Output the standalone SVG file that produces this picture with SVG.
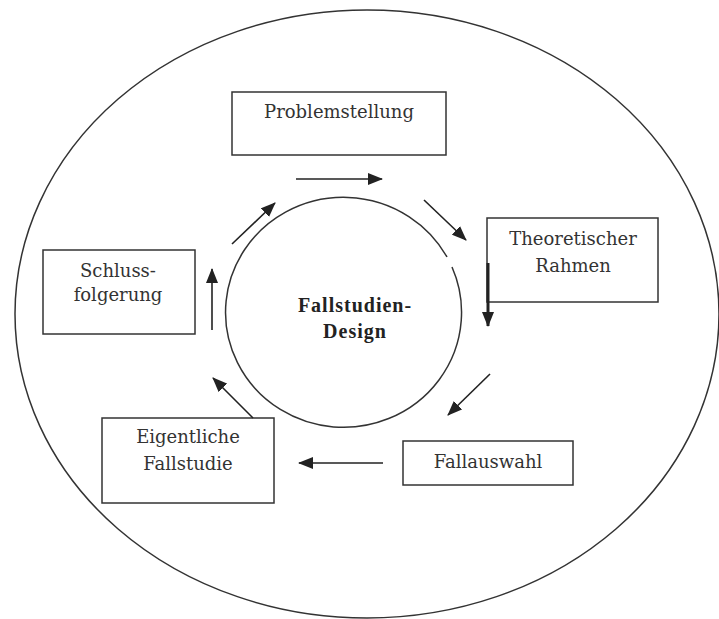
<svg xmlns="http://www.w3.org/2000/svg" width="719" height="619" viewBox="0 0 719 619">
<style>
.box{fill:#fff;stroke:#333;stroke-width:1.5}
text{font-family:"DejaVu Serif",serif;font-size:18px;fill:#333;text-anchor:middle}
.b{font-family:"Liberation Serif",serif;font-weight:bold;font-size:20px;fill:#222;letter-spacing:1px}
.c{fill:none;stroke:#333;stroke-width:1.5}
.a{fill:none;stroke:#222;stroke-width:1.6;marker-end:url(#ah)}
</style>
<defs>
<marker id="ah" viewBox="0 0 15 12" refX="14" refY="6" markerWidth="15" markerHeight="12" markerUnits="userSpaceOnUse" orient="auto">
<path d="M0,0 L15,6 L0,12 Z" fill="#222"/>
</marker>
</defs>
<rect width="719" height="619" fill="#fff"/>
<ellipse class="c" cx="367" cy="314" rx="352" ry="304"/>
<g id="center">
<path class="c" d="M452,267 A118,115 0 1 1 447,257"/>
<text class="b" x="355" y="312">Fallstudien-</text>
<text class="b" x="355" y="338">Design</text>
</g>
<g id="problemstellung">
<rect class="box" x="232" y="92" width="214" height="63"/>
<text x="339" y="118">Problemstellung</text>
</g>
<g id="theoretischer-rahmen">
<rect class="box" x="487" y="218" width="171" height="84"/>
<text x="573" y="245">Theoretischer</text>
<text x="573" y="272">Rahmen</text>
</g>
<g id="fallauswahl">
<rect class="box" x="403" y="441" width="170" height="44"/>
<text x="488" y="468">Fallauswahl</text>
</g>
<g id="eigentliche-fallstudie">
<rect class="box" x="102" y="418" width="172" height="85"/>
<text x="188" y="443">Eigentliche</text>
<text x="188" y="470">Fallstudie</text>
</g>
<g id="schlussfolgerung">
<rect class="box" x="43" y="250" width="152" height="84"/>
<text x="118" y="277">Schluss-</text>
<text x="118" y="301">folgerung</text>
</g>
<g id="connectors">
<line class="a" x1="296" y1="179" x2="382" y2="179"/>
<line class="a" x1="424" y1="200" x2="466" y2="240"/>
<line class="a" x1="488" y1="263" x2="488" y2="326" style="stroke-width:3"/>
<line class="a" x1="490" y1="374" x2="448" y2="415"/>
<line class="a" x1="383" y1="463" x2="299" y2="463"/>
<line class="a" x1="253" y1="418" x2="213" y2="378"/>
<line class="a" x1="212" y1="330" x2="212" y2="269"/>
<line class="a" x1="232" y1="244" x2="275" y2="203"/>
</g>
</svg>
